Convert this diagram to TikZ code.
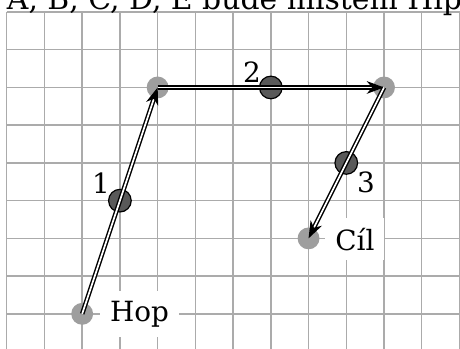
\documentclass[tikz,border=0pt]{standalone}
\usepackage{fontspec}
\setmainfont{DejaVu Serif}
\usetikzlibrary{arrows.meta,calc}
\begin{document}
\begin{tikzpicture}[
  gridline/.style={black!33, line width=1.1pt},
  spot/.style={circle, fill=black!38, minimum size=0.58cm, inner sep=0},
  midmark/.style={circle, fill=black!65, draw=black, line width=0.9pt, minimum size=0.6cm, inner sep=0},
  movearrow/.style={draw=black, line width=1.1pt, double=white, double distance=1.3pt, -{Stealth[length=13pt,width=9.5pt,inset=4pt]}},
  tag/.style={fill=white, inner sep=7.5pt, font=\fontsize{21}{25}\selectfont},
  num/.style={inner sep=0, font=\fontsize{21}{25}\selectfont},
  headline/.style={inner sep=0, font=\fontsize{22.5}{27}\selectfont}
]
\useasboundingbox (-0.178,0.318) rectangle (12.014,-8.93);
\foreach \j in {0,...,8} \draw[gridline] (0,-\j) -- (12.3,-\j);
\foreach \k in {0,...,12} \draw[gridline] (\k,0) -- (\k,-9.3);
\node[headline, anchor=base west] (title) at (0,0.075) {A, B, C, D, E bude místem Hip};
\node[tag, anchor=west] (hoplabel) at (2.47,-8.0) {Hop};
\node[tag, anchor=west] (cillabel) at (8.44,-6.02) {Cíl};
\node[spot] (hop) at (2,-8) {};
\node[spot] (ca) at (4,-2) {};
\node[spot] (cb) at (10,-2) {};
\node[spot] (cil) at (8,-6) {};
\node[midmark] (m1) at ($(hop)!0.5!(ca)$) {};
\node[midmark] (m2) at ($(ca)!0.5!(cb)$) {};
\node[midmark] (m3) at ($(cb)!0.5!(cil)$) {};
\draw[movearrow] (hop.center) -- (ca.center);
\draw[movearrow] (ca.center) -- (cb.center);
\draw[movearrow] (cb.center) -- (cil.center);
\node[num] (n1) at (2.50,-4.53) {1};
\node[num] (n2) at (6.50,-1.59) {2};
\node[num] (n3) at (9.52,-4.51) {3};
\end{tikzpicture}
\end{document}
